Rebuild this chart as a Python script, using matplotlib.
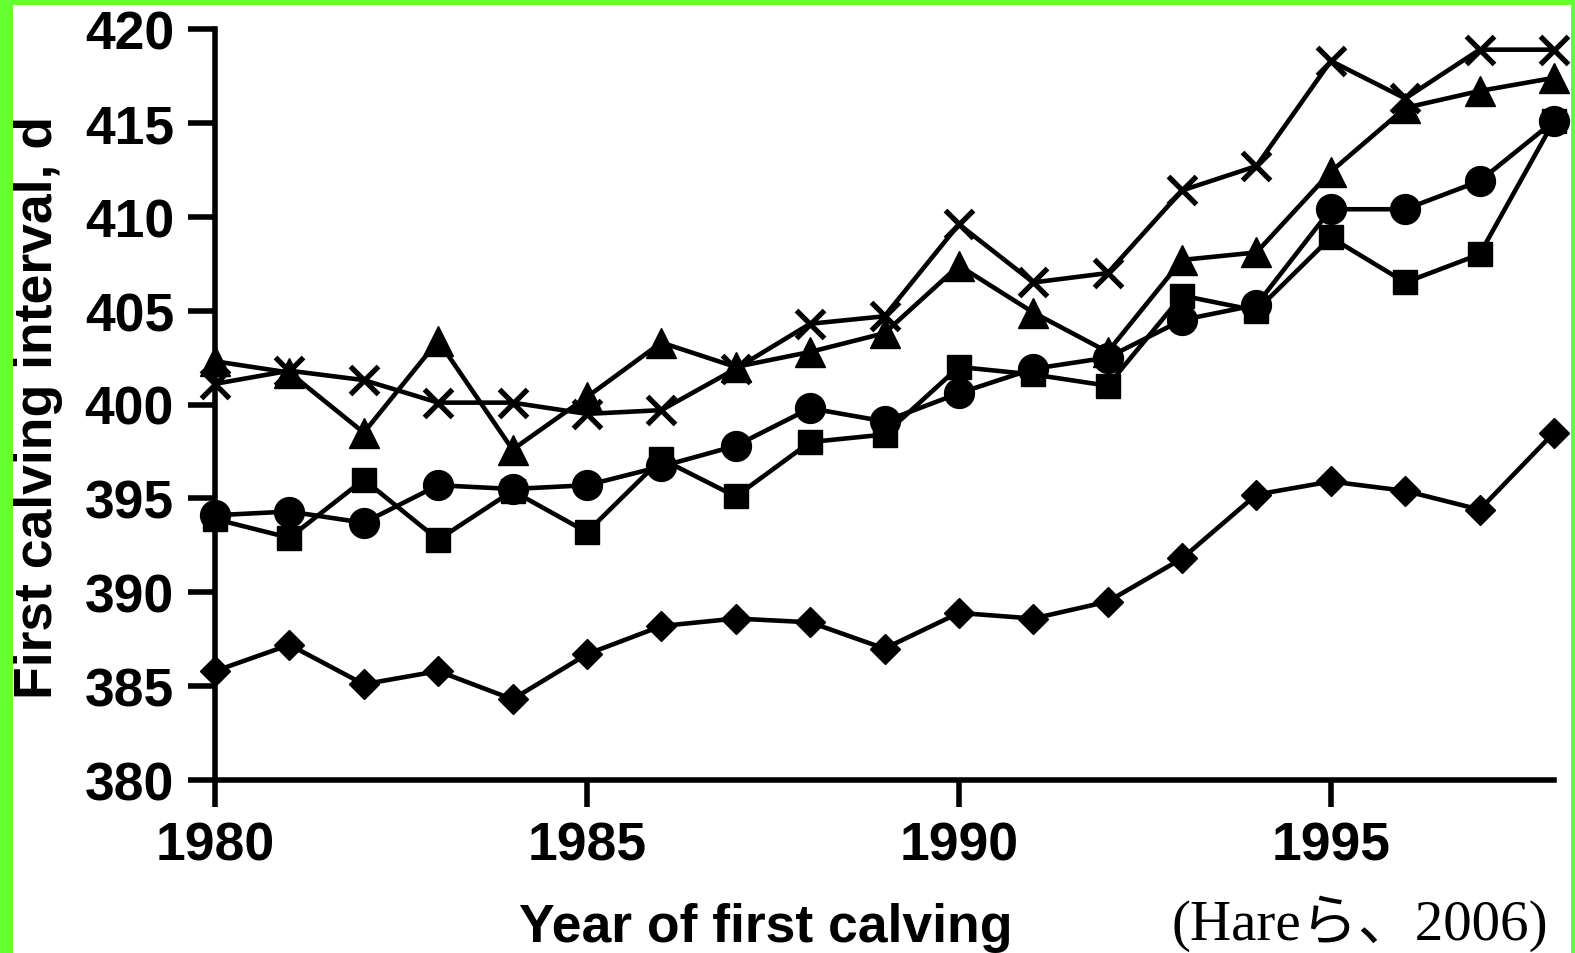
import matplotlib
matplotlib.use("Agg")
import matplotlib.pyplot as plt
from matplotlib.patches import Rectangle

# First calving interval (days) by year of first calving
years = list(range(1980, 1999))

series_x = [401.1, 401.8, 401.3, 400.1, 400.1, 399.5, 399.7, 401.9, 404.3, 404.7,
            409.6, 406.5, 407.0, 411.4, 412.7, 418.3, 416.3, 418.9, 418.9]
series_triangle = [402.3, 401.7, 398.5, 403.4, 397.6, 400.4, 403.3, 402.0, 402.8, 403.8,
                   407.4, 404.9, 402.8, 407.7, 408.1, 412.4, 415.8, 416.7, 417.4]
series_circle = [394.1, 394.3, 393.7, 395.7, 395.5, 395.7, 396.7, 397.8, 399.8, 399.1,
                 400.6, 401.9, 402.5, 404.5, 405.3, 410.4, 410.4, 411.9, 415.1]
series_square = [393.9, 392.9, 396.0, 392.8, 395.4, 393.2, 397.1, 395.1, 398.0, 398.4,
                 402.0, 401.6, 401.0, 405.8, 405.0, 408.9, 406.5, 408.0, 415.1]
series_diamond = [385.8, 387.2, 385.1, 385.8, 384.3, 386.7, 388.2, 388.6, 388.4, 387.0,
                  388.9, 388.6, 389.5, 391.8, 395.2, 395.9, 395.4, 394.4, 398.5]

x_ticks = [1980, 1985, 1990, 1995]
y_ticks = list(range(380, 421, 5))

W, H = 1575, 954
fig = plt.figure(figsize=(W / 100, H / 100), dpi=100)
fig.patch.set_facecolor("white")

left, right, top, bottom = 215, 1554, 30, 781
ax = fig.add_axes([left / W, 1 - bottom / H, (right - left) / W, (bottom - top) / H])

line_kw = dict(color="black", lw=3.3, clip_on=False, markeredgecolor="black",
               markerfacecolor="black")
ax.plot(years, series_diamond, marker="D", ms=15.5, mew=1, **line_kw)
ax.plot(years, series_square, marker="s", ms=17, mew=1, **line_kw)
ax.plot(years, series_circle, marker="o", ms=21.5, mew=1, **line_kw)
ax.plot(years, series_triangle, marker="^", ms=22, mew=1, **line_kw)
ax.plot(years, series_x, marker="x", ms=20, mew=3.8, **line_kw)

ax.set_xlim(1980, 1998)
ax.set_ylim(380, 420)
ax.set_xticks(x_ticks)
ax.set_yticks(y_ticks)

for s in ("top", "right"):
    ax.spines[s].set_visible(False)
for s in ("left", "bottom"):
    ax.spines[s].set_linewidth(4)

font = dict(family="Liberation Sans", weight="bold", size=38.5)
ax.tick_params(axis="both", direction="out", length=19.5, width=4, colors="black")
ax.tick_params(axis="x", pad=9.5)
ax.tick_params(axis="y", pad=10)
for lab in ax.get_xticklabels() + ax.get_yticklabels():
    lab.set_fontfamily(font["family"])
    lab.set_fontweight(font["weight"])
    lab.set_fontsize(font["size"])

ax.set_xlabel("Year of first calving", **font)
ax.xaxis.set_label_coords(0.4115, -(942 - bottom) / (bottom - top))
ax.xaxis.label.set_va("baseline")

ax.set_ylabel("First calving interval, d", **font)
ax.yaxis.set_label_coords(-(left - 52) / (right - left), 0.497)
ax.yaxis.label.set_va("baseline")

fig.text(1172 / W, 1 - 940 / H, "(Hareら、2006)",
         family=["Liberation Serif", "Noto Sans CJK JP"], fontsize=41,
         ha="left", va="baseline", color="black")

# green frame along the left, top and right edges
green = "#66ff33"
for (x0, y0, w, h) in [(0, 0, 13, H), (0, H - 6, W, 6), (W - 4, 0, 4, H)]:
    fig.patches.append(Rectangle((x0 / W, y0 / H), w / W, h / H, transform=fig.transFigure,
                                 facecolor=green, edgecolor="none", zorder=10))

fig.savefig("out.png", dpi=100, facecolor="white")
